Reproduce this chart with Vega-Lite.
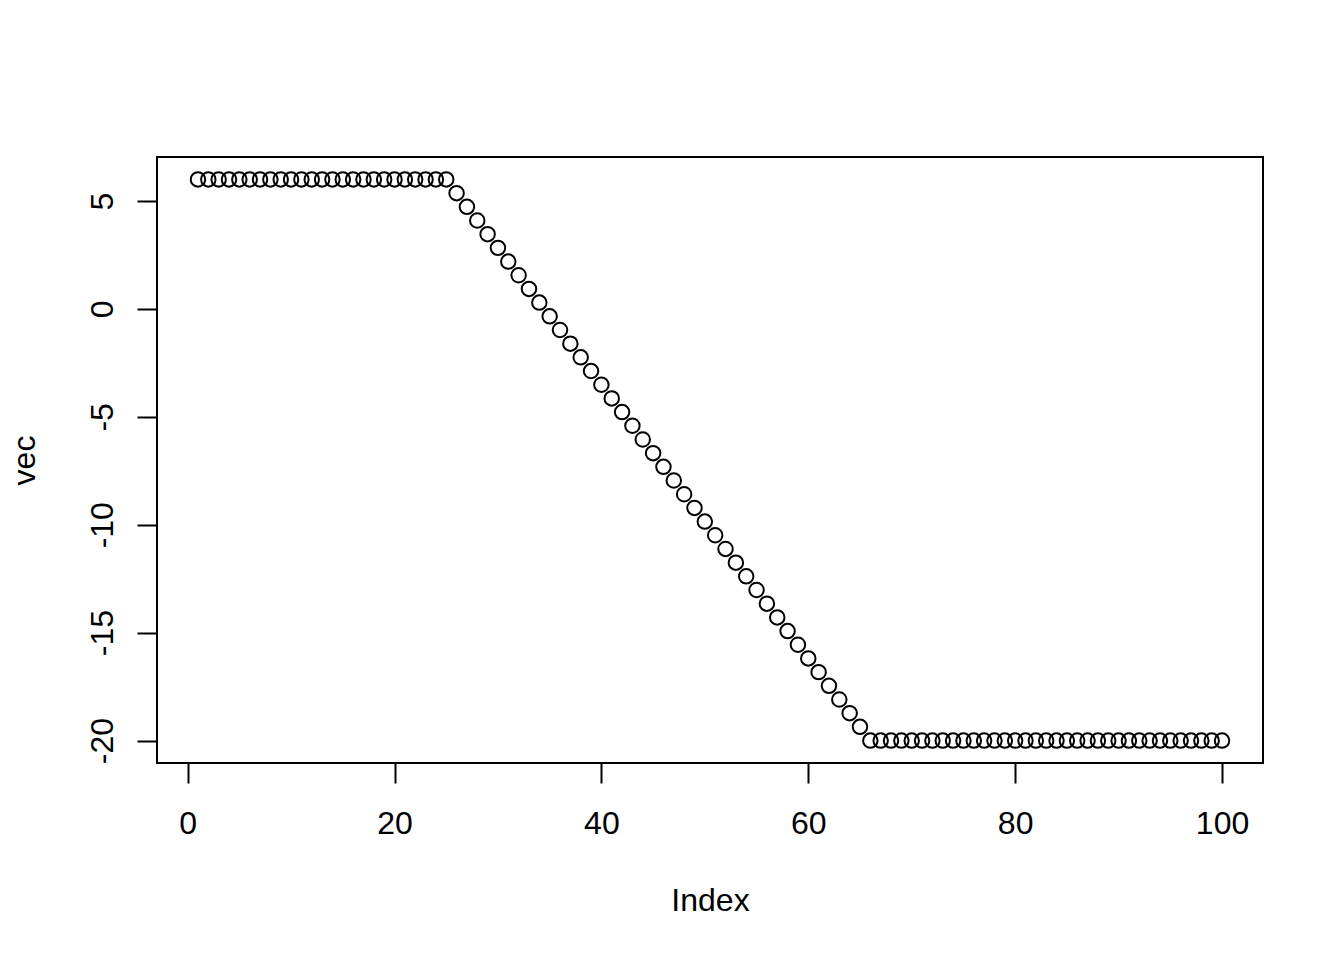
{
  "$schema": "https://vega.github.io/schema/vega-lite/v6.json",
  "autosize": "none",
  "width": 1106,
  "height": 606,
  "padding": {"left": 157, "top": 157, "right": 81, "bottom": 197},
  "background": "white",
  "config": {
    "view": {"stroke": "black", "strokeWidth": 2},
    "font": "Liberation Sans"
  },
  "data": {
    "values": [
      {"i":1,"v":6},{"i":2,"v":6},{"i":3,"v":6},{"i":4,"v":6},{"i":5,"v":6},
      {"i":6,"v":6},{"i":7,"v":6},{"i":8,"v":6},{"i":9,"v":6},{"i":10,"v":6},
      {"i":11,"v":6},{"i":12,"v":6},{"i":13,"v":6},{"i":14,"v":6},{"i":15,"v":6},
      {"i":16,"v":6},{"i":17,"v":6},{"i":18,"v":6},{"i":19,"v":6},{"i":20,"v":6},
      {"i":21,"v":6},{"i":22,"v":6},{"i":23,"v":6},{"i":24,"v":6},{"i":25,"v":6},
      {"i":26,"v":5.3659},{"i":27,"v":4.7317},{"i":28,"v":4.0976},{"i":29,"v":3.4634},{"i":30,"v":2.8293},
      {"i":31,"v":2.1951},{"i":32,"v":1.561},{"i":33,"v":0.9268},{"i":34,"v":0.2927},{"i":35,"v":-0.3415},
      {"i":36,"v":-0.9756},{"i":37,"v":-1.6098},{"i":38,"v":-2.2439},{"i":39,"v":-2.878},{"i":40,"v":-3.5122},
      {"i":41,"v":-4.1463},{"i":42,"v":-4.7805},{"i":43,"v":-5.4146},{"i":44,"v":-6.0488},{"i":45,"v":-6.6829},
      {"i":46,"v":-7.3171},{"i":47,"v":-7.9512},{"i":48,"v":-8.5854},{"i":49,"v":-9.2195},{"i":50,"v":-9.8537},
      {"i":51,"v":-10.4878},{"i":52,"v":-11.122},{"i":53,"v":-11.7561},{"i":54,"v":-12.3902},{"i":55,"v":-13.0244},
      {"i":56,"v":-13.6585},{"i":57,"v":-14.2927},{"i":58,"v":-14.9268},{"i":59,"v":-15.561},{"i":60,"v":-16.1951},
      {"i":61,"v":-16.8293},{"i":62,"v":-17.4634},{"i":63,"v":-18.0976},{"i":64,"v":-18.7317},{"i":65,"v":-19.3659},
      {"i":66,"v":-20},{"i":67,"v":-20},{"i":68,"v":-20},{"i":69,"v":-20},{"i":70,"v":-20},
      {"i":71,"v":-20},{"i":72,"v":-20},{"i":73,"v":-20},{"i":74,"v":-20},{"i":75,"v":-20},
      {"i":76,"v":-20},{"i":77,"v":-20},{"i":78,"v":-20},{"i":79,"v":-20},{"i":80,"v":-20},
      {"i":81,"v":-20},{"i":82,"v":-20},{"i":83,"v":-20},{"i":84,"v":-20},{"i":85,"v":-20},
      {"i":86,"v":-20},{"i":87,"v":-20},{"i":88,"v":-20},{"i":89,"v":-20},{"i":90,"v":-20},
      {"i":91,"v":-20},{"i":92,"v":-20},{"i":93,"v":-20},{"i":94,"v":-20},{"i":95,"v":-20},
      {"i":96,"v":-20},{"i":97,"v":-20},{"i":98,"v":-20},{"i":99,"v":-20},{"i":100,"v":-20}
    ]
  },
  "mark": {"type": "point", "shape": "circle", "filled": false, "stroke": "black", "strokeWidth": 2, "size": 210, "opacity": 1},
  "encoding": {
    "x": {
      "field": "i", "type": "quantitative",
      "scale": {"domain": [-2.96, 103.96], "nice": false, "zero": false},
      "axis": {
        "title": "Index", "values": [0, 20, 40, 60, 80, 100],
        "domain": false, "grid": false,
        "tickSize": 20, "tickWidth": 2, "tickColor": "black",
        "labelFontSize": 32, "labelColor": "black", "labelPadding": 50,
        "labelBaseline": "alphabetic", "labelAlign": "center", "labelFont": "Liberation Sans",
        "labelExpr": "'' + datum.value",
        "titleFontSize": 32, "titleFontWeight": "normal", "titleColor": "black", "titleFont": "Liberation Sans",
        "titleY": 147, "titleBaseline": "alphabetic"
      }
    },
    "y": {
      "field": "v", "type": "quantitative",
      "scale": {"domain": [-21.04, 7.04], "nice": false, "zero": false},
      "axis": {
        "title": "vec", "values": [-20, -15, -10, -5, 0, 5],
        "domain": false, "grid": false,
        "tickSize": 20, "tickWidth": 2, "tickColor": "black",
        "labelFontSize": 32, "labelColor": "black", "labelPadding": 25,
        "labelAngle": -90, "labelAlign": "center", "labelBaseline": "alphabetic", "labelFont": "Liberation Sans",
        "labelExpr": "'' + datum.value",
        "titleFontSize": 32, "titleFontWeight": "normal", "titleColor": "black", "titleFont": "Liberation Sans",
        "titleAngle": -90, "titleX": -123, "titleY": 303, "titleAlign": "center", "titleBaseline": "alphabetic"
      }
    }
  }
}
